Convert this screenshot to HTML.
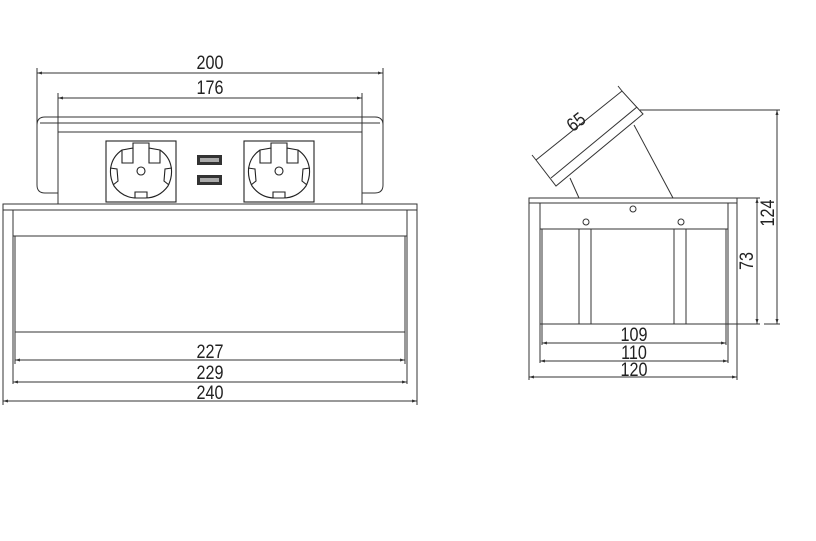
<!DOCTYPE html>
<html><head><meta charset="utf-8"><style>
html,body{margin:0;padding:0;background:#fff;}
svg{display:block;}
text{font-family:"Liberation Sans",sans-serif;font-size:19px;fill:#222;}
</style></head><body>
<svg width="816" height="541" viewBox="0 0 816 541" xmlns="http://www.w3.org/2000/svg">
<defs>
<marker id="a" viewBox="0 0 10 10" refX="10" refY="5" markerWidth="7" markerHeight="5" orient="auto-start-reverse"><path d="M0,2 L10,5 L0,8 z" fill="#333"/></marker>
<g id="sock" fill="none" stroke="#222" stroke-width="1.1">
<rect x="0" y="0" width="70" height="61"/>
<path d="M8,45 C2,33 3,18 16,9 L27,7 L27,2 L43,2 L43,7 L54,9 C67,18 68,33 62,45 C54,56 44,57 39,57 L31,57 C26,57 16,56 8,45 z"/>
<path d="M16,9 L16,22 L27,22 L27,7 M43,7 L43,22 L54,22 L54,9"/>
<circle cx="35" cy="30" r="4"/>
<path d="M29,57 L29,51 L41,51 L41,57"/>
<path d="M4,27 L11,28 L12,40 L7,44 M66,27 L59,28 L58,40 L63,44"/>
</g>
<g id="usb"><rect x="0" y="0" width="25" height="10" fill="#333"/><rect x="3" y="3" width="19" height="4" fill="#aaa"/></g>
</defs>
<g fill="none" stroke="#333" stroke-width="1">
<line x1="37" y1="68" x2="37" y2="138"/><line x1="383" y1="68" x2="383" y2="138"/>
<line x1="37" y1="73" x2="383" y2="73" marker-start="url(#a)" marker-end="url(#a)"/>
<line x1="58" y1="93" x2="58" y2="132"/><line x1="362" y1="93" x2="362" y2="132"/>
<line x1="58" y1="98" x2="362" y2="98" marker-start="url(#a)" marker-end="url(#a)"/>
<path d="M58,193 L45,193 Q37,193 37,185 L37,125 Q37,117 45,117 L375,117 Q383,117 383,125 L383,185 Q383,193 375,193 L362,193"/>
<path d="M40,123 L380,123"/>
<rect x="58" y="132" width="304" height="72"/>
<rect x="3" y="204" width="414" height="6"/>
<line x1="3" y1="210" x2="3" y2="405"/><line x1="417" y1="210" x2="417" y2="405"/>
<line x1="13" y1="210" x2="13" y2="384"/><line x1="407" y1="210" x2="407" y2="384"/>
<line x1="13" y1="236" x2="407" y2="236"/>
<line x1="15" y1="236" x2="15" y2="364"/><line x1="405" y1="236" x2="405" y2="364"/>
<line x1="15" y1="332" x2="405" y2="332"/>
<line x1="15" y1="360" x2="405" y2="360" marker-start="url(#a)" marker-end="url(#a)"/>
<line x1="13" y1="382" x2="407" y2="382" marker-start="url(#a)" marker-end="url(#a)"/>
<line x1="3" y1="401" x2="417" y2="401" marker-start="url(#a)" marker-end="url(#a)"/>
<path d="M536,160 L622,91 L643,114 L556,186 z"/>
<line x1="551" y1="178" x2="637" y2="107"/>
<line x1="570" y1="178" x2="579" y2="198"/><line x1="634" y1="125" x2="673" y2="198"/>
<rect x="529" y="198" width="208" height="5"/>
<line x1="529" y1="203" x2="529" y2="380"/><line x1="737" y1="203" x2="737" y2="380"/>
<line x1="540" y1="203" x2="540" y2="363"/><line x1="728" y1="203" x2="728" y2="363"/>
<line x1="540" y1="229" x2="728" y2="229"/>
<circle cx="633" cy="209" r="3"/><circle cx="586" cy="222" r="3"/><circle cx="681" cy="222" r="3"/>
<rect x="579" y="229" width="12" height="95"/><rect x="674" y="229" width="12" height="95"/>
<line x1="542" y1="229" x2="542" y2="345"/><line x1="726" y1="229" x2="726" y2="345"/>
<line x1="540" y1="324" x2="760" y2="324"/>
<line x1="737" y1="198" x2="760" y2="198"/>
<line x1="757" y1="198" x2="757" y2="324" marker-start="url(#a)" marker-end="url(#a)"/>
<line x1="640" y1="110" x2="780" y2="110"/>
<line x1="777" y1="110" x2="777" y2="324" marker-start="url(#a)" marker-end="url(#a)"/>
<line x1="764" y1="324" x2="780" y2="324"/>
<line x1="542" y1="343" x2="726" y2="343" marker-start="url(#a)" marker-end="url(#a)"/>
<line x1="540" y1="361" x2="728" y2="361" marker-start="url(#a)" marker-end="url(#a)"/>
<line x1="529" y1="377" x2="737" y2="377" marker-start="url(#a)" marker-end="url(#a)"/>
<line x1="536" y1="160" x2="532" y2="155"/><line x1="622" y1="91" x2="618" y2="86"/>
</g>
<use href="#sock" x="106" y="141"/><use href="#sock" x="244" y="141"/>
<use href="#usb" x="197" y="155"/><use href="#usb" x="197" y="175"/>
<g text-anchor="middle">
<text transform="translate(210,69) scale(0.85,1)">200</text>
<text transform="translate(210,94) scale(0.85,1)">176</text>
<text transform="translate(210,358) scale(0.85,1)">227</text>
<text transform="translate(210,379) scale(0.85,1)">229</text>
<text transform="translate(210,399) scale(0.85,1)">240</text>
<text transform="translate(634,341) scale(0.85,1)">109</text>
<text transform="translate(634,359) scale(0.85,1)">110</text>
<text transform="translate(634,376) scale(0.85,1)">120</text>
<text transform="translate(580,127) rotate(-38) scale(0.85,1)">65</text>
<text transform="translate(753,261) rotate(-90) scale(0.85,1)">73</text>
<text transform="translate(774,213) rotate(-90) scale(0.85,1)">124</text>
</g>
</svg>
</body></html>
